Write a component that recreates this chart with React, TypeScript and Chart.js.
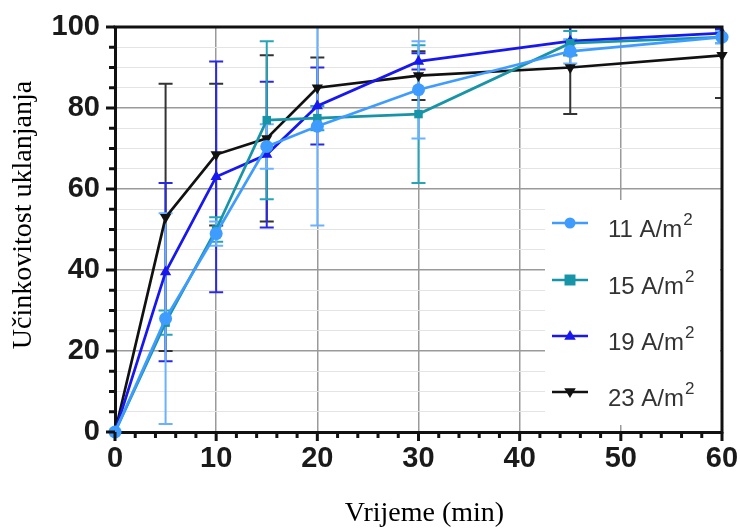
import React, { useEffect, useRef } from "react";
import { Chart, registerables } from "chart.js";

Chart.register(...registerables);

// ---- data ----
const times = [0, 5, 10, 15, 20, 30, 45, 60];
const eff11 = [0, 28, 49, 70.5, 75.5, 84.5, 94, 97.5];
const err11 = [0, 26, 3, 5.5, 24.5, 12, 3, 1.5];
const eff15 = [0, 27, 50, 77, 77.5, 78.5, 96, 97.5];
const err15 = [0, 3, 3, 19.5, 3, 17, 3, 1.5];
const eff19 = [0, 39.5, 63, 68.5, 80.5, 91.5, 96.5, 98.5];
const err19 = [0, 22, 28.5, 18, 9.5, 2, 3.5, 1];
const eff23 = [0, 53, 68.5, 72.5, 85, 88, 90, 93];
const err23 = [0, 33, 17.5, 20.5, 7.5, 6, 11.5, 10.5];

const seriesNames = ["11 A/m", "15 A/m", "19 A/m", "23 A/m"];
const unitSup = "2";
const xTitle = "Vrijeme (min)";
const yTitle = "Učinkovitost uklanjanja";

const colors = ["#3f9cff", "#1894a8", "#1818ee", "#111111"];
const errColors = ["#6ab2ff", "#28a4b8", "#2a2ae2", "#333333"];
const pointStyles = ["circle", "rect", "triangle", "triangle"];
const rotations = [0, 0, 0, 180];

function drawMarker(ctx: CanvasRenderingContext2D, style: string, rot: number, x: number, y: number, r: number, color: string) {
  ctx.save();
  ctx.fillStyle = color;
  ctx.beginPath();
  if (style === "circle") {
    ctx.arc(x, y, r, 0, Math.PI * 2);
  } else if (style === "rect") {
    ctx.rect(x - r, y - r, 2 * r, 2 * r);
  } else {
    const s = rot === 180 ? -1 : 1;
    ctx.moveTo(x, y - s * r * 1.1);
    ctx.lineTo(x - r * 1.05, y + s * r * 0.7);
    ctx.lineTo(x + r * 1.05, y + s * r * 0.7);
    ctx.closePath();
  }
  ctx.fill();
  ctx.restore();
}

export default function App() {
  const ref = useRef<HTMLCanvasElement>(null);

  useEffect(() => {
    const values = [eff11, eff15, eff19, eff23];
    const errors = [err11, err15, err19, err23];
    const titleFontCss = "28px 'Liberation Serif', 'Times New Roman', serif";

    const errorBars = {
      id: "errorBars",
      beforeDatasetsDraw(chart: any) {
        const { ctx, chartArea, scales } = chart;
        const x = scales.x, y = scales.y;
        ctx.save();
        ctx.beginPath();
        ctx.rect(chartArea.left, chartArea.top - 1, chartArea.right - chartArea.left, chartArea.bottom - chartArea.top + 2);
        ctx.clip();
        for (let s = values.length - 1; s >= 0; s--) {
          ctx.strokeStyle = errColors[s];
          ctx.lineWidth = 2;
          values[s].forEach((v, i) => {
            const e = errors[s][i];
            if (!e) return;
            const px = x.getPixelForValue(times[i]);
            const top = y.getPixelForValue(v + e);
            const bot = y.getPixelForValue(v - e);
            ctx.beginPath();
            ctx.moveTo(px, top);
            ctx.lineTo(px, bot);
            ctx.moveTo(px - 7, top);
            ctx.lineTo(px + 7, top);
            ctx.moveTo(px - 7, bot);
            ctx.lineTo(px + 7, bot);
            ctx.stroke();
          });
        }
        ctx.restore();
      },
    };

    const frame = {
      id: "frame",
      afterDraw(chart: any) {
        const { ctx, chartArea, scales } = chart;
        const x = scales.x, y = scales.y;
        const { left, right, top, bottom } = chartArea;
        ctx.save();
        ctx.strokeStyle = "#111";
        ctx.lineCap = "butt";
        for (let v = 0; v <= 100; v += 5) {
          const py = y.getPixelForValue(v);
          const major = v % 20 === 0;
          ctx.lineWidth = 3;
          ctx.beginPath();
          ctx.moveTo(left - (major ? 9 : 6), py);
          ctx.lineTo(left, py);
          ctx.stroke();
        }
        for (let v = 0; v <= 60; v += 2) {
          const px = x.getPixelForValue(v);
          const major = v % 10 === 0;
          ctx.lineWidth = 3;
          ctx.beginPath();
          ctx.moveTo(px, bottom);
          ctx.lineTo(px, bottom + (major ? 9 : 6));
          ctx.stroke();
        }
        ctx.lineWidth = 3;
        ctx.beginPath();
        ctx.moveTo(left - 1.5, top);
        ctx.lineTo(right, top);
        ctx.lineTo(right, bottom + 1.5);
        ctx.stroke();

        // axis titles
        ctx.fillStyle = "#000";
        ctx.font = titleFontCss;
        ctx.textAlign = "center";
        ctx.textBaseline = "middle";
        ctx.fillText(xTitle, left + (right - left) / 2 + 6, bottom + 82);
        ctx.save();
        ctx.translate(24, top + 188);
        ctx.rotate(-Math.PI / 2);
        ctx.fillText(yTitle, 0, 0);
        ctx.restore();

        // legend
        const bx = right - 177, by = top + 173, bw = 175, bh = 225;
        ctx.fillStyle = "#ffffff";
        ctx.fillRect(bx, by, bw, bh);
        const rows = [223, 280, 336, 392].map((r) => r - 27 + top);
        seriesNames.forEach((name, i) => {
          const ry = rows[i];
          ctx.strokeStyle = colors[i];
          ctx.lineWidth = 2.5;
          ctx.beginPath();
          ctx.moveTo(bx + 7, ry);
          ctx.lineTo(bx + 43, ry);
          ctx.stroke();
          drawMarker(ctx, pointStyles[i], rotations[i], bx + 25, ry, 5.5, colors[i]);
          ctx.fillStyle = "#333333";
          ctx.font = "24px 'Liberation Sans', Arial, sans-serif";
          ctx.textBaseline = "middle";
          ctx.textAlign = "left";
          ctx.fillText(name, bx + 63, ry + 7);
          const w = ctx.measureText(name).width;
          ctx.font = "17px 'Liberation Sans', Arial, sans-serif";
          ctx.fillText(unitSup, bx + 63 + w + 1, ry - 3);
        });
        ctx.restore();
      },
    };

    const datasets = values.map((vals, i) => ({
      label: seriesNames[i] + unitSup,
      data: vals.map((v, j) => ({ x: times[j], y: v })),
      borderColor: colors[i],
      backgroundColor: colors[i],
      borderWidth: 2.7,
      pointStyle: pointStyles[i] as any,
      rotation: rotations[i],
      pointRadius: pointStyles[i] === "rect" ? 6 : 6.5,
      pointBorderWidth: 0,
      tension: 0,
      clip: false as any,
    }));

    const tickFont = { family: "'Liberation Sans', Arial, sans-serif", size: 29, weight: "bold" as any };

    const chart = new Chart(ref.current!, {
      type: "line",
      data: { datasets },
      plugins: [errorBars, frame],
      options: {
        animation: false,
        responsive: false,
        maintainAspectRatio: false,
        layout: { padding: { left: 0, top: 27, right: 18, bottom: 0 } },
        plugins: { legend: { display: false }, tooltip: { enabled: false } },
        scales: {
          x: {
            type: "linear",
            min: 0,
            max: 60,
            afterFit(scale: any) {
              scale.height = 99;
              scale.paddingLeft = 0;
              scale.paddingRight = 0;
            },
            ticks: {
              stepSize: 2,
              autoSkip: false,
              maxRotation: 0,
              padding: 10,
              color: "#1a1a1a",
              font: tickFont,
              callback: (v: any) => (Number(v) % 10 === 0 ? String(v) : ""),
            },
            grid: {
              drawTicks: false,
              lineWidth: 1.5,
              color: (c: any) => {
                const v = c.tick?.value;
                return v % 10 === 0 && v !== 0 && v !== 60 ? "#9a9a9a" : "rgba(0,0,0,0)";
              },
            },
            border: { display: true, color: "#111", width: 3 },
            title: { display: false, text: xTitle },
          },
          y: {
            min: 0,
            max: 100,
            afterFit(scale: any) {
              scale.width = 115;
              scale.paddingTop = 0;
              scale.paddingBottom = 0;
            },
            ticks: {
              stepSize: 5,
              autoSkip: false,
              padding: 15,
              color: "#1a1a1a",
              font: tickFont,
              callback: (v: any) => (Number(v) % 20 === 0 ? String(v) : ""),
            },
            grid: {
              drawTicks: false,
              lineWidth: (c: any) => (c.tick?.value % 20 === 0 ? 1.5 : 1),
              color: (c: any) => {
                const v = c.tick?.value;
                if (v === 0 || v === 100) return "rgba(0,0,0,0)";
                return v % 20 === 0 ? "#9a9a9a" : "#e4e4e4";
              },
            },
            border: { display: true, color: "#111", width: 3 },
            title: { display: false, text: yTitle },
          },
        },
      },
    });
    return () => chart.destroy();
  }, []);

  return (
    <div style={{ position: "fixed", left: 0, top: 0, width: 740, height: 531, background: "#fff" }}>
      <canvas ref={ref} width={740} height={531} style={{ width: 740, height: 531, display: "block" }} />
    </div>
  );
}
